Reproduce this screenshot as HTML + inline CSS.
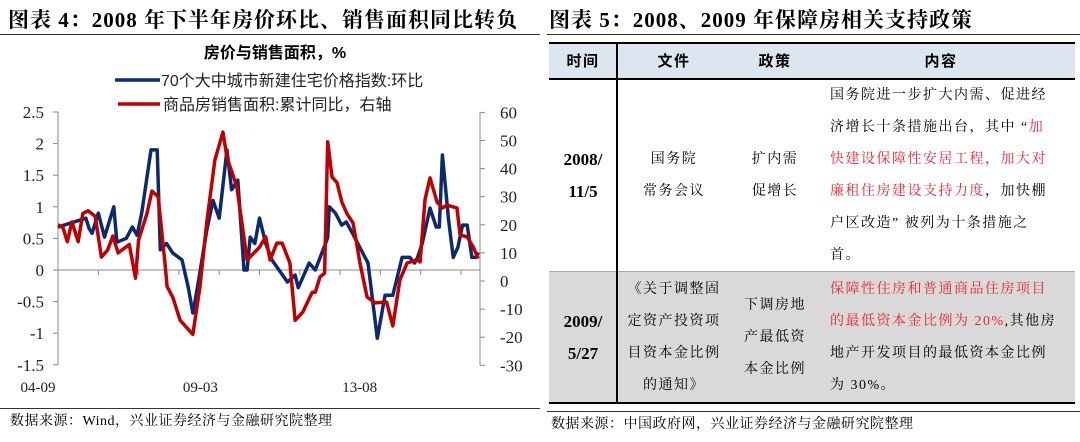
<!DOCTYPE html>
<html><head><meta charset="utf-8">
<style>
body{margin:0;width:1080px;height:442px;background:#fff;overflow:hidden;position:relative;font-family:"Liberation Serif","Noto Serif CJK SC",serif;}
.abs{position:absolute;}
.title{font-size:21px;font-weight:bold;top:4px;white-space:nowrap;letter-spacing:1px;}
.src{font-size:14px;top:412px;white-space:nowrap;letter-spacing:0.5px;}
.cell{position:absolute;text-align:center;font-size:14px;line-height:32px;letter-spacing:1.5px;white-space:nowrap;}
.red{color:#e8262b;}
</style></head><body>
<div class="abs title" style="left:8px">图表 4：2008 年下半年房价环比、销售面积同比转负</div>
<div class="abs" style="left:0;top:34px;width:540px;height:1px;background:#333"></div>
<div class="abs title" style="left:549px">图表 5：2008、2009 年保障房相关支持政策</div>
<div class="abs" style="left:547px;top:34px;width:533px;height:1px;background:#333"></div>

<svg class="abs" style="left:0;top:0" width="545" height="405">
<text x="275" y="58" text-anchor="middle" font-size="16" font-weight="bold" font-family="Liberation Sans,Noto Sans CJK SC,sans-serif">房价与销售面积，%</text>
<line x1="115" y1="80" x2="160" y2="80" stroke="#0e2a6e" stroke-width="3.5"/>
<text x="161" y="86" font-size="16" font-family="Liberation Sans,Noto Sans CJK SC,sans-serif" fill="#222">70个大中城市新建住宅价格指数:环比</text>
<line x1="118" y1="104" x2="160" y2="104" stroke="#c00000" stroke-width="3.5"/>
<text x="163" y="110" font-size="16" font-family="Liberation Sans,Noto Sans CJK SC,sans-serif" fill="#222">商品房销售面积:累计同比，右轴</text>
<g id="axes"></g>
<g id="series"></g>
</svg>

<div class="abs src" style="left:10px;top:410px">数据来源：Wind，兴业证券经济与金融研究院整理</div>
<div class="abs" style="left:0;top:408px;width:540px;height:1px;background:#333"></div>

<div class="abs" style="left:549px;top:42px;width:526px;height:362px;">
  <div class="abs" style="left:0;top:0;width:526px;height:2px;background:#000"></div>
  <div class="abs" style="left:0;top:2px;width:526px;height:34px;background:#dce6f1"></div>
  <div class="abs" style="left:0;top:36px;width:526px;height:2px;background:#000"></div>
  <div class="abs" style="left:0;top:229px;width:526px;height:131px;background:#d9d9d9;border-top:1px solid #aaa"></div>
  <div class="abs" style="left:0;top:360px;width:526px;height:2px;background:#000"></div>
  <div class="abs" style="left:67px;top:2px;width:2px;height:358px;background:#000"></div>
  <div class="cell" style="left:0;top:4px;width:68px;font-weight:bold;font-family:'Liberation Sans','Noto Sans CJK SC',sans-serif;font-size:15px">时间</div>
  <div class="cell" style="left:70px;top:4px;width:110px;font-weight:bold;font-family:'Liberation Sans','Noto Sans CJK SC',sans-serif;font-size:15px">文件</div>
  <div class="cell" style="left:180px;top:4px;width:92px;font-weight:bold;font-family:'Liberation Sans','Noto Sans CJK SC',sans-serif;font-size:15px">政策</div>
  <div class="cell" style="left:272px;top:4px;width:240px;font-weight:bold;font-family:'Liberation Sans','Noto Sans CJK SC',sans-serif;font-size:15px">内容</div>

  <div class="cell" style="left:0;top:102px;width:68px;font-weight:bold;font-size:17px;letter-spacing:0">2008/<br>11/5</div>
  <div class="cell" style="left:70px;top:102px;width:110px">国务院<br>常务会议</div>
  <div class="cell" style="left:180px;top:102px;width:92px">扩内需<br>促增长</div>
  <div class="cell" style="left:281px;top:38px;width:230px;text-align:left">国务院进一步扩大内需、促进经<br>济增长十条措施出台，其中 “<span class="red">加</span><br><span class="red">快建设保障性安居工程，加大对</span><br><span class="red">廉租住房建设支持力度</span>，加快棚<br>户区改造” 被列为十条措施之<br>首。</div>

  <div class="cell" style="left:0;top:264px;width:68px;font-weight:bold;font-size:17px;letter-spacing:0">2009/<br>5/27</div>
  <div class="cell" style="left:70px;top:232px;width:110px">《关于调整固<br>定资产投资项<br>目资本金比例<br>的通知》</div>
  <div class="cell" style="left:180px;top:248px;width:92px">下调房地<br>产最低资<br>本金比例</div>
  <div class="cell" style="left:281px;top:232px;width:230px;text-align:left"><span class="red">保障性住房和普通商品住房项目</span><br><span class="red">的最低资本金比例为 20%</span>,其他房<br>地产开发项目的最低资本金比例<br>为 30%。</div>
</div>
<div class="abs" style="left:547px;top:411px;width:533px;height:1px;background:#333"></div>
<div class="abs src" style="left:551px;top:413px">数据来源：中国政府网，兴业证券经济与金融研究院整理</div>

<script>
const blueMonths=[0,9,10,11,13,15,18,19,22,24,25.5,27,30,32,33,35,37,40,42,43.5,45,48,50,52,54.5,56,58,60,61,62,63.5,65,67,69,74,76.5,77.5,81,83,87,87.5,89.5,91.5,93,95,100,103,105.5,108,111,113.5,115,116,117.5,120,122,123,124,126,127.5,129,130.5,132,133.5,135,135.5];
const blueValues=[0.68,0.82,0.66,0.58,0.9,0.52,1.0,0.44,0.5,0.68,0.55,0.9,1.9,1.9,0.32,0.42,0.27,0.16,-0.27,-0.68,-0.27,0.63,1.1,0.82,1.9,1.27,1.42,0,0,0.52,0.42,0.82,0.42,0.16,-0.19,-0.08,-0.28,0.11,0,0.51,1.0,0.9,0.71,0.76,0.58,0.11,-1.08,-0.4,-0.4,0.2,0.2,0.11,0.2,0.42,0.98,0.68,0.68,1.82,0.79,0.2,0.36,0.71,0.71,0.2,0.2,0.28];
const redMonths=[0,1.6,3,4.5,6.5,8,9.7,12,14,16,17.7,19.4,23,25,26,28.7,30.3,32.3,34.5,35.2,37,39.4,43.5,45.8,48,50.6,53.2,54.5,57.7,61,65,67,68.4,70.6,72.3,74.8,76.5,79,82,83,84.5,86,87,88.4,90,91.6,93.2,95.2,97.4,99.7,102.3,106,108,110.3,112.6,115.8,116.8,118.4,120,122.3,124,125.5,128.7,129.7,132,134,135.5];
const redValues=[20,19,14,21,14,24,25,23,8.5,11,16,10,13,1,14.6,24,32,30,6.4,-2,-5.7,-14,-19,-2,21,43,53,44,33.5,7.5,12,15.7,7.5,13.5,13.5,6.4,-14,-11,-4,-4,1.4,2.8,49.5,37,35,28,24,20.6,6.4,-5.7,-7.8,-7.5,-16,0.4,6.4,7.5,6.8,29,36.7,28,26,27,26,16.4,15.7,12,8];
const leftTicks=[2.5,2,1.5,1,0.5,0,-0.5,-1,-1.5];
const leftTickLabels=["2.5","2","1.5","1","0.5","0","-0.5","-1","-1.5"];
const rightTicks=[60,50,40,30,20,10,0,-10,-20,-30];
const xLabelMonths=[0,54,107];
const xLabels=["04-09","09-03","13-08"];

const NS="http://www.w3.org/2000/svg";
const xS=m=>58+m*3.1;
const yL=v=>270-v*63.2;
const yR=v=>281-v*2.81;
const ax=document.getElementById('axes'), se=document.getElementById('series');
function mk(tag,attrs,parent){const e=document.createElementNS(NS,tag);for(const k in attrs)e.setAttribute(k,attrs[k]);parent.appendChild(e);return e;}
const F="Liberation Serif";
let e=mk('line',{x1:58,y1:yL(2.5),x2:58,y2:yL(-1.5),stroke:'#888'},ax);


e=mk('line',{x1:480,y1:yR(60),x2:480,y2:yR(-30),stroke:'#888'},ax);


e=mk('line',{x1:58,y1:yL(0),x2:480,y2:yL(0),stroke:'#888'},ax);


leftTicks.forEach((v,i)=>{
  mk('line',{x1:53,y1:yL(v),x2:58,y2:yL(v),stroke:'#888'},ax);
  const t=mk('text',{x:44,y:yL(v)+6,'text-anchor':'end','font-size':17,'font-family':F,fill:'#222'},ax);
  t.textContent=leftTickLabels[i];
  
  
});
rightTicks.forEach(v=>{
  mk('line',{x1:480,y1:yR(v),x2:485,y2:yR(v),stroke:'#888'},ax);
  const t=mk('text',{x:500,y:yR(v)+6,'font-size':17,'font-family':F,fill:'#222'},ax);
  t.textContent=String(v);
  
  
});
for(let m=13;m<=135;m+=13){mk('line',{x1:xS(m),y1:yL(0),x2:xS(m),y2:yL(0)+5,stroke:'#888'},ax);}
xLabelMonths.forEach((m,i)=>{
  const t=mk('text',{x:xS(m)-20+(i*-5),y:392,'text-anchor':'middle','font-size':15,'font-family':F,fill:'#222'},ax);
  t.textContent=xLabels[i];
  
  
});
let p=mk('polyline',{points:blueMonths.map((m,i)=>xS(m)+','+yL(blueValues[i])).join(' '),fill:'none',stroke:'#0e2a6e','stroke-width':3.5,'stroke-linejoin':'round'},se);


p=mk('polyline',{points:redMonths.map((m,i)=>xS(m)+','+yR(redValues[i])).join(' '),fill:'none',stroke:'#c00000','stroke-width':3.5,'stroke-linejoin':'round'},se);


</script>
</body></html>
